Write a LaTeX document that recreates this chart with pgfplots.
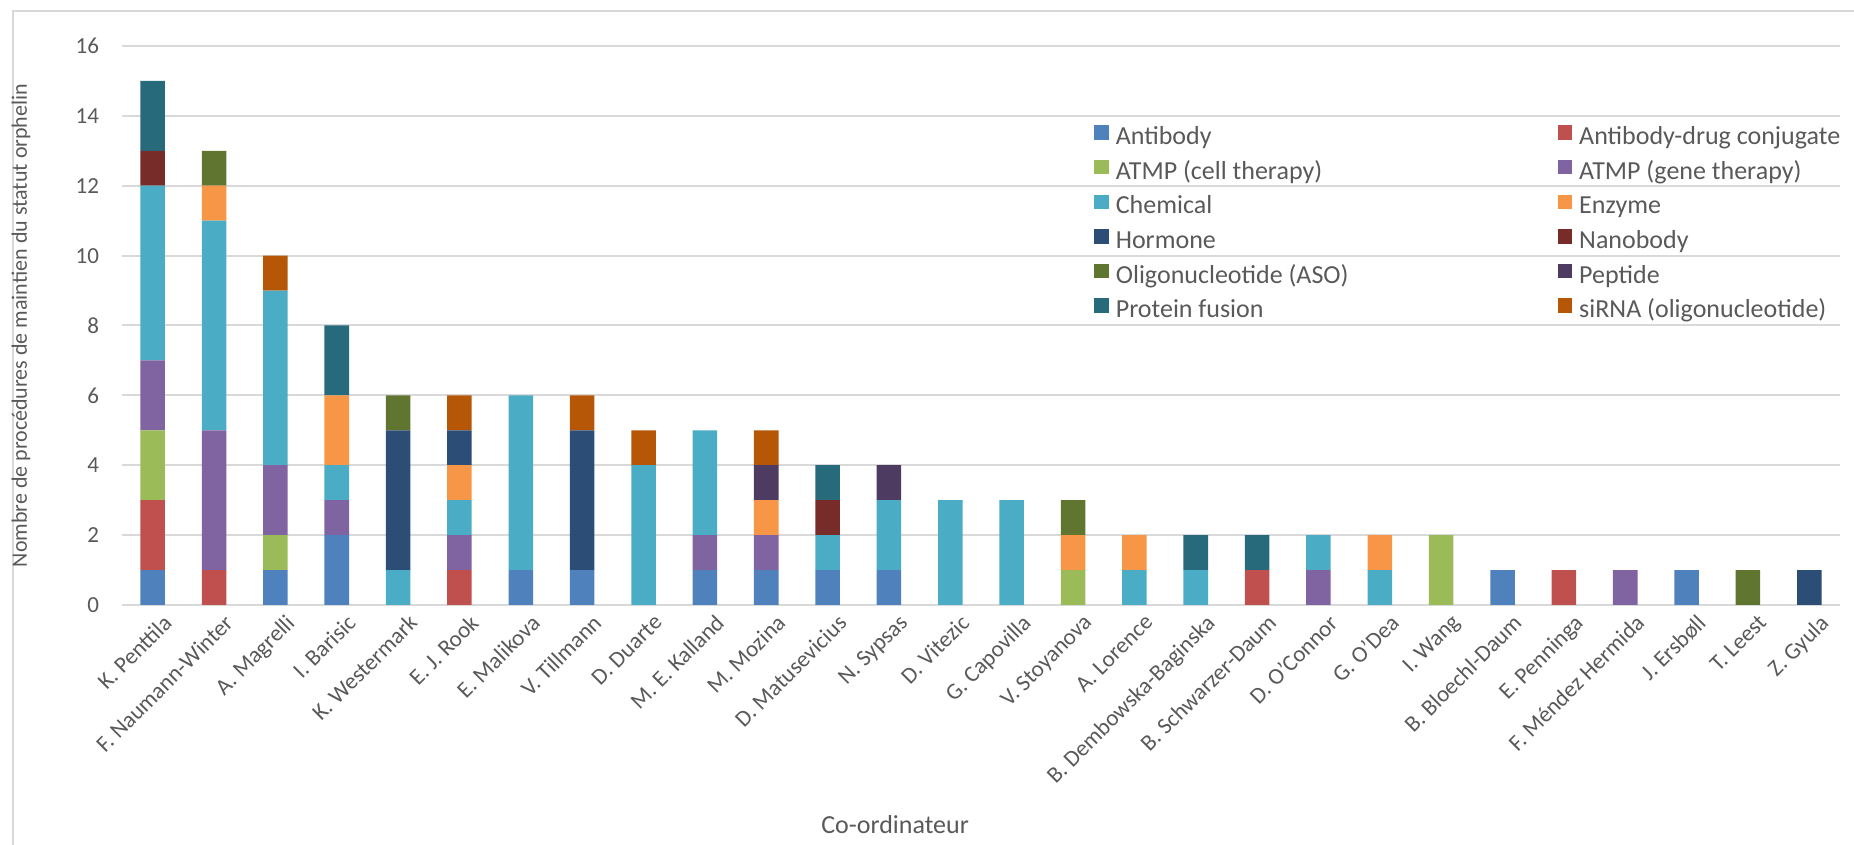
\documentclass[border=0pt]{standalone}
\usepackage{pgfplots}
\pgfplotsset{compat=1.18}
\usepackage{pgfplotstable}
\usepackage{fontspec}
\setmainfont{Carlito}
\definecolor{cAb}{HTML}{4F81BD}
\definecolor{cADC}{HTML}{C0504D}
\definecolor{cCell}{HTML}{9BBB59}
\definecolor{cGene}{HTML}{8064A2}
\definecolor{cChem}{HTML}{4BACC6}
\definecolor{cEnz}{HTML}{F79646}
\definecolor{cHorm}{HTML}{2C4D75}
\definecolor{cNano}{HTML}{772C2A}
\definecolor{cASO}{HTML}{5F7530}
\definecolor{cPep}{HTML}{4D3B62}
\definecolor{cPF}{HTML}{276A7C}
\definecolor{cSi}{HTML}{B65708}
\definecolor{gridgray}{HTML}{D9D9D9}
\definecolor{txtgray}{HTML}{595959}

\pgfplotstableread{
x  Ab ADC Cell Gene Chem Enz Horm Nano ASO Pep PF siRNA
0  1  2   2    2    5    0   0    1    0   0   2  0
1  0  1   0    4    6    1   0    0    1   0   0  0
2  1  0   1    2    5    0   0    0    0   0   0  1
3  2  0   0    1    1    2   0    0    0   0   2  0
4  0  0   0    0    1    0   4    0    1   0   0  0
5  0  1   0    1    1    1   1    0    0   0   0  1
6  1  0   0    0    5    0   0    0    0   0   0  0
7  1  0   0    0    0    0   4    0    0   0   0  1
8  0  0   0    0    4    0   0    0    0   0   0  1
9  1  0   0    1    3    0   0    0    0   0   0  0
10 1  0   0    1    0    1   0    0    0   1   0  1
11 1  0   0    0    1    0   0    1    0   0   1  0
12 1  0   0    0    2    0   0    0    0   1   0  0
13 0  0   0    0    3    0   0    0    0   0   0  0
14 0  0   0    0    3    0   0    0    0   0   0  0
15 0  0   1    0    0    1   0    0    1   0   0  0
16 0  0   0    0    1    1   0    0    0   0   0  0
17 0  0   0    0    1    0   0    0    0   0   1  0
18 0  1   0    0    0    0   0    0    0   0   1  0
19 0  0   0    1    1    0   0    0    0   0   0  0
20 0  0   0    0    1    1   0    0    0   0   0  0
21 0  0   2    0    0    0   0    0    0   0   0  0
22 1  0   0    0    0    0   0    0    0   0   0  0
23 0  1   0    0    0    0   0    0    0   0   0  0
24 0  0   0    1    0    0   0    0    0   0   0  0
25 1  0   0    0    0    0   0    0    0   0   0  0
26 0  0   0    0    0    0   0    0    1   0   0  0
27 0  0   0    0    0    0   1    0    0   0   0  0
}\datatable

\newcommand{\lc}[1]{\makebox[217.5pt][l]{#1}}

\begin{document}
\begin{tikzpicture}
\path[use as bounding box] (-61pt,-120pt) rectangle (866pt,302.5pt);
\draw[gridgray, line width=1pt] (-54.5pt,-120pt) -- (-54.5pt,297pt) -- (866pt,297pt);
\begin{axis}[
  at={(0,0)}, anchor=south west,
  scale only axis, width=859pt, height=279.5pt,
  ybar stacked, bar width=0.4,
  xmin=-0.5, xmax=27.5, ymin=0, ymax=16,
  xtick={0,...,27},
  xticklabels={K. Penttila, F. Naumann-Winter, A. Magrelli, I. Barisic, K. Westermark, E. J. Rook, E. Malikova, V. Tillmann, D. Duarte, M. E. Kalland, M. Mozina, D. Matusevicius, N. Sypsas, D. Vitezic, G. Capovilla, V. Stoyanova, A. Lorence, B. Dembowska-Baginska, B. Schwarzer-Daum, D. O'Connor, G. O'Dea, I. Wang, B. Bloechl-Daum, E. Penninga, F. Méndez Hermida, J. Ersbøll, T. Leest, Z. Gyula},
  ytick={0,2,...,16},
  ymajorgrids, grid style={draw=gridgray, line width=1pt},
  axis line style={draw=none},
  major tick length=0pt,
  tick label style={font=\fontsize{11.5}{13}\selectfont, text=txtgray},
  /pgf/number format/assume math mode=true,
  xticklabel style={rotate=45, anchor=north east, inner sep=1pt, xshift=1.5pt, yshift=-5pt},
  yticklabel style={xshift=-8pt},
  xlabel={Co-ordinateur},
  xlabel style={at={(axis description cs:0.45,-0.392)}, anchor=center, font=\fontsize{13}{15}\selectfont, text=txtgray},
  ylabel={Nombre de procédures de maintien du statut orphelin},
  ylabel style={at={(axis description cs:-0.0588,0.5)}, anchor=center, font=\fontsize{11}{13}\selectfont, text=txtgray},
  legend columns=2,
  legend cell align=left,
  legend style={draw=none, fill=none, at={(axis description cs:0.5658,0.866)}, anchor=north west,
    inner sep=0pt, column sep=0pt, row sep=0pt,
    font=\fontsize{13}{15}\selectfont, text=txtgray,
    nodes={inner xsep=3.5pt, inner ysep=2.65pt, text height=9pt, text depth=3pt}},
  every axis plot post/.append style={draw=none,
    legend image code/.code={\fill[##1] (0pt,-0.6pt) rectangle (7.2pt,6.6pt);}},
]
\addplot[fill=cAb] table[x=x,y=Ab]{\datatable};
\addlegendentry{\lc{Antibody}}
\addplot[fill=cADC] table[x=x,y=ADC]{\datatable};
\addlegendentry{Antibody-drug conjugate}
\addplot[fill=cCell] table[x=x,y=Cell]{\datatable};
\addlegendentry{\lc{ATMP (cell therapy)}}
\addplot[fill=cGene] table[x=x,y=Gene]{\datatable};
\addlegendentry{ATMP (gene therapy)}
\addplot[fill=cChem] table[x=x,y=Chem]{\datatable};
\addlegendentry{\lc{Chemical}}
\addplot[fill=cEnz] table[x=x,y=Enz]{\datatable};
\addlegendentry{Enzyme}
\addplot[fill=cHorm] table[x=x,y=Horm]{\datatable};
\addlegendentry{\lc{Hormone}}
\addplot[fill=cNano] table[x=x,y=Nano]{\datatable};
\addlegendentry{Nanobody}
\addplot[fill=cASO] table[x=x,y=ASO]{\datatable};
\addlegendentry{\lc{Oligonucleotide (ASO)}}
\addplot[fill=cPep] table[x=x,y=Pep]{\datatable};
\addlegendentry{Peptide}
\addplot[fill=cPF] table[x=x,y=PF]{\datatable};
\addlegendentry{\lc{Protein fusion}}
\addplot[fill=cSi] table[x=x,y=siRNA]{\datatable};
\addlegendentry{siRNA (oligonucleotide)}
\end{axis}
\end{tikzpicture}
\end{document}
